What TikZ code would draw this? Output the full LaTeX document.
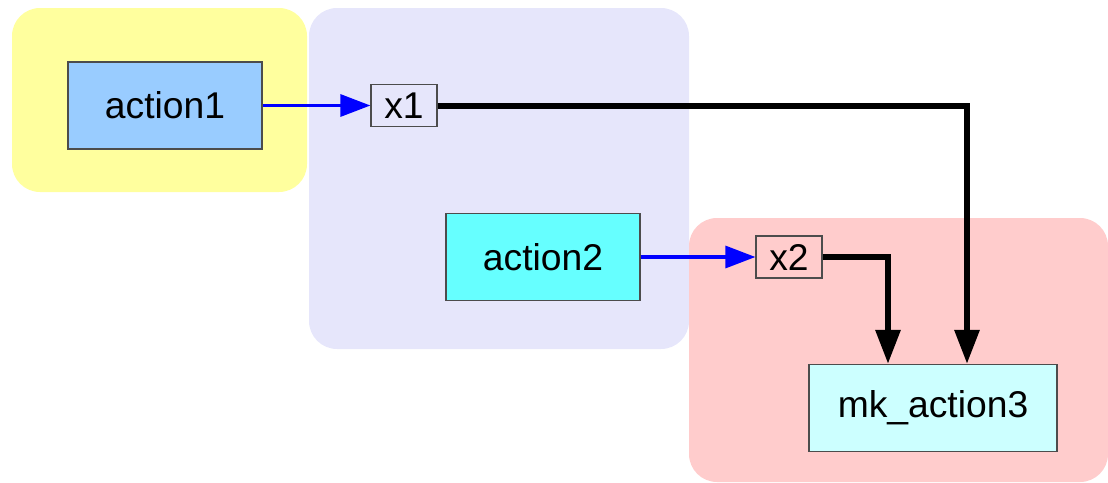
\documentclass[tikz,border=0pt]{standalone}
\usepackage{fontspec}
\setmainfont{Liberation Sans}
\usetikzlibrary{arrows.meta}

\definecolor{grpyellow}{RGB}{255,255,158}
\definecolor{grplilac}{RGB}{230,230,251}
\definecolor{grppink}{RGB}{255,204,204}
\definecolor{actblue}{RGB}{153,204,255}
\definecolor{actcyan}{RGB}{102,255,255}
\definecolor{actpale}{RGB}{204,255,255}

\begin{document}
\begin{tikzpicture}[x=0.25mm,y=-0.25mm,
  font=\fontsize{26.5}{30}\selectfont,
  group/.style={fill=#1,rounded corners=7mm,draw=none},
  action/.style={draw=black!70,line width=0.3mm,fill=#1,minimum width=48.5mm,minimum height=21.75mm,inner sep=0pt},
  var/.style={draw=black!70,line width=0.3mm,fill=none,minimum width=16.5mm,minimum height=10.5mm,inner sep=0pt},
  flow/.style={-{Triangle[length=7.5mm,width=5.5mm]},blue,line width=0.8mm},
  dep/.style={-{Triangle[length=8.5mm,width=6mm]},black,line width=1.5mm}]
\useasboundingbox (0,0) rectangle (1108,482);
% groups
\fill[group=grpyellow] (12,8) rectangle (307,192);
\fill[group=grplilac] (309,8) rectangle (689,349);
\fill[group=grppink] (689,218) rectangle (1108,482);
% nodes
\node[action=actblue] (action1) at (165,105.5) {action1};
\node[var] (x1) at (404,105.5) {x1};
\node[action=actcyan] (action2) at (543,257) {action2};
\node[var] (x2) at (789,257) {x2};
\node[action=actpale,minimum width=62mm] (mk_action3) at (933,408) {mk\_action3};
% edges
\draw[flow] (action1.east) -- (x1.west);
\draw[flow] (action2.east) -- (x2.west);
\draw[dep] (x1.east) -| ([xshift=8.5mm]mk_action3.north);
\draw[dep] (x2.east) -| ([xshift=-11.25mm]mk_action3.north);
\end{tikzpicture}
\end{document}
